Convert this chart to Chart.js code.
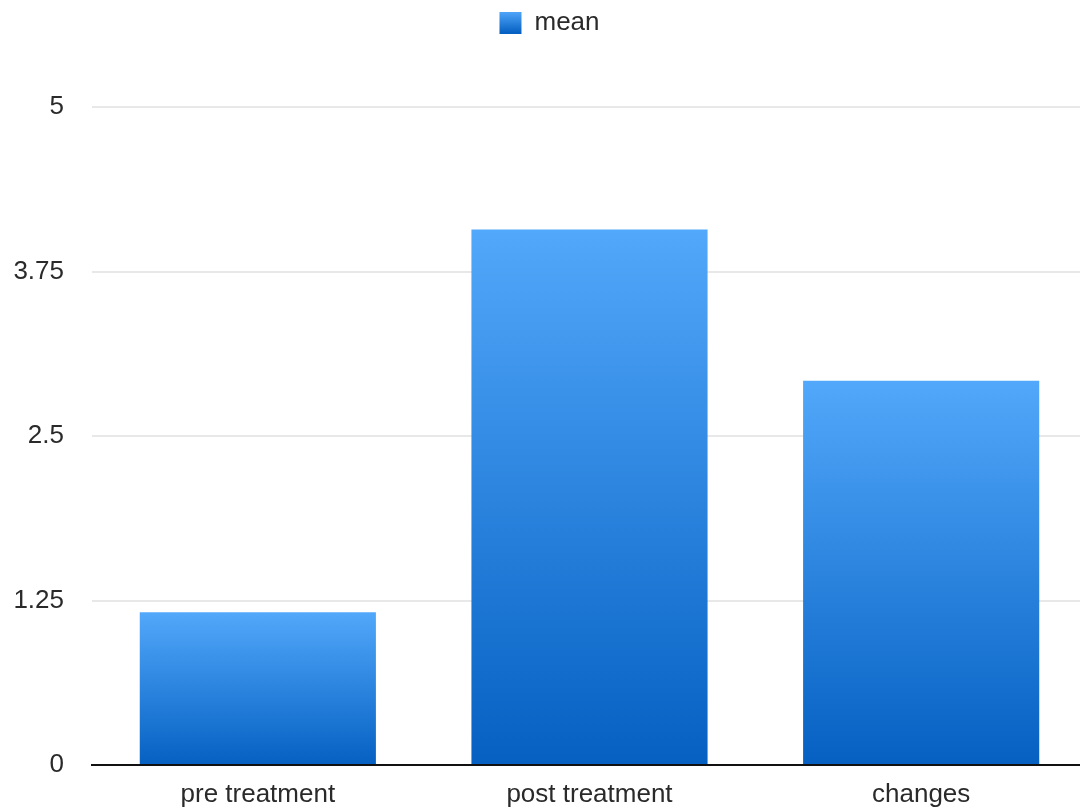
<!DOCTYPE html>
<html>
<head>
<meta charset="utf-8">
<script src="https://cdn.jsdelivr.net/npm/chart.js@4/dist/chart.umd.min.js"></script>
<style>
    html, body { margin: 0; padding: 0; background: #fff; overflow: hidden; }
    #wrap { width: 1087px; height: 812px; position: relative; }
</style>
</head>
<body>
<div id="wrap"><canvas id="chart"></canvas></div>
<script>
const categories = ["pre treatment", "post treatment", "changes"];
const meanValues = [1.16, 4.07, 2.92];
const seriesLabel = "mean";
const yTicks = [0, 1.25, 2.5, 3.75, 5];

const fontFamily = "'Liberation Sans', Arial, Helvetica, sans-serif";
const lightBlue = "#52a8fa";
const darkBlue = "#0560c2";

// Vertical gradient from top to bottom pixel
function makeGradient(ctx, top, bottom) {
    const gradient = ctx.createLinearGradient(0, top, 0, bottom);
    gradient.addColorStop(0, lightBlue);
    gradient.addColorStop(1, darkBlue);
    return gradient;
}

// Each bar gets its own gradient: light at the top, dark at the bottom
function barGradient(context) {
    const chart = context.chart;
    const yScale = chart.scales.y;
    if (!yScale || context.dataIndex === undefined) return "#2a84e0";
    const value = context.dataset.data[context.dataIndex];
    const top = yScale.getPixelForValue(value);
    const bottom = yScale.getPixelForValue(0);
    if (!isFinite(top) || !isFinite(bottom)) return "#2a84e0";
    return makeGradient(chart.ctx, top, bottom);
}

// Push the plot area down below the legend, and nudge the legend a bit right
const legendSpacing = {
    id: "legendSpacing",
    beforeInit(chart) {
        const fit = chart.legend.fit;
        chart.legend.fit = function () {
            fit.bind(this)();
            this.height += 61;
        };
    },
    afterLayout(chart) {
        chart.legend.left += 6;
        chart.legend.right += 6;
    },
};

new Chart(document.querySelector("#chart"), {
    type: "bar",
    data: {
        labels: categories,
        datasets: [
            {
                label: seriesLabel,
                data: meanValues,
                backgroundColor: barGradient,
                borderWidth: 0,
                barPercentage: 0.712,
                categoryPercentage: 1,
            },
        ],
    },
    plugins: [legendSpacing],
    options: {
        responsive: true,
        maintainAspectRatio: false,
        animation: false,
        devicePixelRatio: 1,
        scales: {
            x: {
                z: 1,
                afterFit: (scale) => {
                    scale.height = 47;
                },
                grid: { display: false, drawTicks: false },
                border: { display: true, color: "#111", width: 2 },
                ticks: {
                    color: "#2a2a2a",
                    padding: 14,
                    font: { family: fontFamily, size: 26 },
                },
            },
            y: {
                min: 0,
                max: 5,
                afterFit: (scale) => {
                    scale.width = 92;
                },
                afterBuildTicks: (scale) => {
                    scale.ticks = yTicks.map((v) => ({ value: v }));
                },
                grid: { color: "#e8e8e8", lineWidth: 2, drawTicks: false },
                border: { display: false },
                ticks: {
                    color: "#2a2a2a",
                    padding: 28,
                    font: { family: fontFamily, size: 26 },
                    callback: (value) => String(value),
                },
            },
        },
        plugins: {
            legend: {
                position: "top",
                labels: {
                    boxWidth: 22,
                    boxHeight: 22,
                    padding: 10,
                    color: "#2a2a2a",
                    font: { family: fontFamily, size: 26 },
                    generateLabels: (chart) =>
                        chart.data.datasets.map((ds, i) => ({
                            text: ds.label,
                            fillStyle: makeGradient(chart.ctx, 11, 33),
                            strokeStyle: "rgba(0,0,0,0)",
                            lineWidth: 0,
                            fontColor: "#2a2a2a",
                            datasetIndex: i,
                        })),
                },
            },
            tooltip: { enabled: false },
        },
    },
});
</script>
</body>
</html>
